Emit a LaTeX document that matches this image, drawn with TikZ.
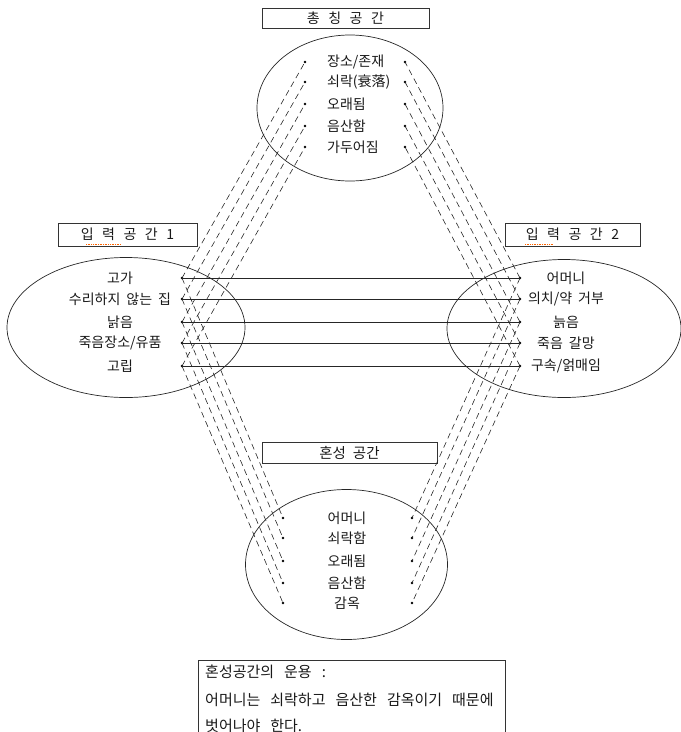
\documentclass[tikz,border=0pt]{standalone}
\usepackage{fontspec}
\newfontfamily\kr{Noto Sans CJK KR}
\newfontfamily\krw[Scale=1.0001]{Noto Sans CJK KR}
\newcommand\setspace[1]{\fontdimen2\font=#1\relax}
\newcommand\krlbl{\kr\fontsize{14}{16}\selectfont\setspace{6pt}}
\newcommand\krhdr{\krw\fontsize{14}{16}\selectfont\setspace{8.5pt}}
\newcommand\krblh{\kr\fontsize{14.5}{16}\selectfont\setspace{7pt}}
\newcommand\krnote{\kr\fontsize{15}{17}\selectfont\setspace{10pt}}
\begin{document}
\begin{tikzpicture}[x=1pt,y=-1pt,
  lbl/.style={font=\krlbl, inner sep=0pt, text=black!90},
  hdr/.style={draw=black!80, line width=0.9pt, inner sep=0pt, font=\krhdr, text=black!90},
  dotn/.style={circle, fill=black, inner sep=0pt, minimum size=2.8pt},
  dline/.style={dash pattern=on 6pt off 4pt, line width=0.6pt, black!85},
  link/.style={line width=0.7pt, black!85},
  spacer/.style={line width=0.7pt, black!85},
  note/.style={font=\krnote, inner sep=0pt, anchor=west, text=black!90},
  spell/.style={draw=orange!80!red, densely dotted, line width=0.7pt}]

\useasboundingbox (0,0) rectangle (681,732);

% ---------- headers ----------
\node[hdr, minimum width=167pt, minimum height=20pt] (hGen) at (345.5,18) {총 칭 공 간};
\node[hdr, minimum width=139pt, minimum height=23pt] (hIn1) at (127.5,234.5) {입 력 공 간 1};
\node[hdr, minimum width=135pt, minimum height=23pt] (hIn2) at (572.5,234.5) {입 력 공 간 2};
\node[hdr, minimum width=175pt, minimum height=21pt, font=\krblh] (hBl) at (349.5,452.5) {혼성 공간};
\draw[spell] (86,244) -- (121,244);
\draw[spell] (525,244) -- (553,244);

% ---------- spaces (ellipses) ----------
\draw[spacer] (350,108) ellipse [x radius=93pt, y radius=73pt];
\draw[spacer] (126,327.5) ellipse [x radius=119pt, y radius=70pt];
\draw[spacer] (564,328.5) ellipse [x radius=117pt, y radius=69pt];
\draw[spacer] (346.5,564.5) ellipse [x radius=101pt, y radius=75pt];

% ---------- generic space ----------
\foreach \i/\y/\t in {1/62/{장소/존재}, 2/82/{쇠락(衰落)}, 3/104/{오래됨}, 4/126/{음산함}, 5/147/{가두어짐}}{
  \node[lbl, anchor=west] (gT\i) at (327,\y) {\t};
  \node[dotn] (gL\i) at (305,\y) {};
  \node[dotn] (gR\i) at (405,\y) {};
}

% ---------- input space 1 ----------
\foreach \i/\y/\t in {1/278/{고가}, 2/299/{수리하지 않는 집}, 3/322/{낡음}, 4/343/{죽음장소/유품}, 5/366/{고립}}{
  \node[lbl] (aT\i) at (120,\y) {\t};
  \node[dotn] (a\i) at (182,\y) {};
}

% ---------- input space 2 ----------
\foreach \i/\y/\t in {1/278/{어머니}, 2/299/{의치/약 거부}, 3/322/{늙음}, 4/343/{죽음 갈망}, 5/366/{구속/얽매임}}{
  \node[lbl] (bT\i) at (566,\y) {\t};
  \node[dotn] (b\i) at (520,\y) {};
}

% ---------- blended space ----------
\foreach \i/\y/\t in {1/518/{어머니}, 2/538/{쇠락함}, 3/561/{오래됨}, 4/583/{음산함}, 5/603/{감옥}}{
  \node[lbl] (cT\i) at (347,\y) {\t};
  \node[dotn] (cL\i) at (283,\y) {};
  \node[dotn] (cR\i) at (412,\y) {};
}

% ---------- connectors ----------
\foreach \i in {1,...,5}{
  \draw[link] (a\i.center) -- (b\i.center);
  \draw[dline] (a\i.center) -- (gL\i.center);
  \draw[dline] (b\i.center) -- (gR\i.center);
  \draw[dline] (a\i.center) -- (cL\i.center);
  \draw[dline] (b\i.center) -- (cR\i.center);
}

% ---------- note box ----------
\draw[line width=0.9pt, black!80] (198,732) -- (198,660) -- (505,660) -- (505,732);
\node[note] (n1) at (205,672) {혼성공간의 운용 :};
\node[note] (n2) at (205,700) {어머니는 쇠락하고 음산한 감옥이기 때문에};
\node[note] (n3) at (205,726) {벗어나야 한다.};
\end{tikzpicture}
\end{document}
